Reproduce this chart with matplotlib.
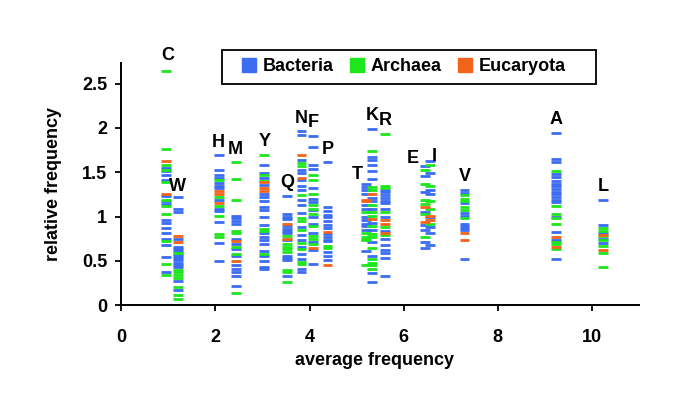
import matplotlib
matplotlib.use("Agg")
import matplotlib.pyplot as plt
from matplotlib.lines import Line2D
from matplotlib.patches import Rectangle

# ---- data -----------------------------------------------------------------
amino_acids = ['C', 'W', 'H', 'M', 'Y', 'Q', 'N', 'F', 'P',
               'T', 'K', 'R', 'E', 'I', 'V', 'A', 'L']
avg_freq = [0.95, 1.20, 2.07, 2.43, 3.04, 3.53, 3.83, 4.07, 4.38,
            5.20, 5.33, 5.61, 6.45, 6.55, 7.29, 9.24, 10.24]

bacteria = {
    'C': [1.55, 1.51, 1.47, 1.41, 1.23, 1.17, 1.14, 0.96, 0.93, 0.87, 0.82, 0.75, 0.68, 0.54, 0.37, 0.0],
    'W': [1.22, 1.08, 1.05, 0.75, 0.66, 0.63, 0.61, 0.58, 0.56, 0.53, 0.51, 0.48, 0.45, 0.43, 0.27, 0.17],
    'H': [1.69, 1.52, 1.47, 1.44, 1.38, 1.35, 1.32, 1.19, 1.09, 1.06, 0.94, 0.70, 0.50],
    'M': [1.01, 0.98, 0.95, 0.92, 0.75, 0.69, 0.63, 0.55, 0.45, 0.41, 0.37, 0.33, 0.22],
    'Y': [1.58, 1.49, 1.44, 1.36, 1.25, 1.22, 1.18, 1.11, 1.07, 0.99, 0.90, 0.82, 0.77, 0.73, 0.69, 0.61, 0.55, 0.50, 0.43, 0.41],
    'Q': [1.23, 1.03, 1.00, 0.97, 0.89, 0.86, 0.84, 0.81, 0.73, 0.56, 0.53, 0.51, 0.33],
    'N': [1.96, 1.92, 1.64, 1.53, 1.49, 1.41, 1.35, 1.30, 1.19, 1.13, 1.04, 0.88, 0.79, 0.73, 0.66, 0.58, 0.52, 0.41, 0.38],
    'F': [1.91, 1.79, 1.58, 1.54, 1.32, 1.20, 1.16, 1.07, 1.00, 0.92, 0.81, 0.71, 0.62, 0.47],
    'P': [1.61, 1.11, 1.06, 1.02, 0.99, 0.95, 0.91, 0.87, 0.80, 0.77, 0.74, 0.72, 0.60, 0.56, 0.51],
    'T': [1.37, 1.33, 1.30, 1.25, 1.13, 1.09, 1.00, 0.96, 0.92, 0.89, 0.85, 0.61],
    'K': [1.99, 1.67, 1.64, 1.58, 1.51, 1.42, 1.21, 1.17, 1.09, 0.93, 0.85, 0.71, 0.56, 0.36, 0.26],
    'R': [1.30, 1.28, 1.24, 1.21, 1.18, 1.15, 1.09, 1.00, 0.84, 0.75, 0.68, 0.62, 0.59, 0.53, 0.33],
    'E': [1.57, 1.46, 1.28, 1.05, 0.90, 0.85, 0.71, 0.65],
    'I': [1.63, 1.49, 1.30, 1.25, 0.99, 0.88, 0.81, 0.68],
    'V': [1.30, 1.27, 1.15, 1.04, 1.01, 0.92, 0.89, 0.87, 0.85, 0.52],
    'A': [1.94, 1.65, 1.61, 1.48, 1.45, 1.40, 1.37, 1.34, 1.31, 1.28, 1.25, 1.22, 1.19, 1.16, 0.99, 0.83, 0.74, 0.52],
    'L': [1.19, 0.90, 0.81, 0.75, 0.70],
}
archaea = {
    'C': [2.64, 1.76, 1.58, 1.52, 1.39, 1.19, 1.12, 1.03, 0.72, 0.46, 0.34],
    'W': [0.59, 0.40, 0.37, 0.34, 0.31, 0.21, 0.11, 0.07],
    'H': [1.41, 1.22, 1.12, 1.01, 0.80, 0.77],
    'M': [1.61, 1.42, 1.19, 0.84, 0.82, 0.66, 0.58, 0.14],
    'Y': [1.70, 1.47, 1.40, 0.86, 0.84, 0.58],
    'Q': [0.78, 0.69, 0.66, 0.63, 0.60, 0.40, 0.37, 0.26],
    'N': [1.60, 1.57, 1.24, 0.98, 0.95, 0.85, 0.70, 0.63, 0.49, 0.46],
    'F': [1.47, 1.41, 1.26, 1.13, 1.09, 1.03, 0.89, 0.78, 0.75, 0.69],
    'P': [0.67, 0.64],
    'T': [1.05, 0.81, 0.77, 0.75, 0.73, 0.45],
    'K': [1.74, 1.33, 1.30, 1.13, 1.05, 1.01, 0.89, 0.80, 0.77, 0.64, 0.52, 0.48, 0.45, 0.41],
    'R': [1.93, 1.34, 1.32, 1.05, 0.88, 0.79],
    'E': [1.52, 1.37, 1.19, 1.14, 1.03, 0.77],
    'I': [1.58, 1.34, 1.17, 1.08, 0.92],
    'V': [1.24, 1.20, 1.18, 1.11, 1.07, 0.98],
    'A': [1.51, 1.12, 1.03, 0.98, 0.92, 0.71, 0.69, 0.63],
    'L': [0.87, 0.84, 0.78, 0.73, 0.67, 0.59, 0.43],
}
eucaryota = {
    'C': [1.63, 1.25],
    'W': [0.78, 0.71],
    'H': [1.29, 1.26, 1.15],
    'M': [0.72, 0.50],
    'Y': [1.39, 1.32, 1.29],
    'Q': [0.92, 0.75],
    'N': [1.69, 1.43],
    'F': [0.65],
    'P': [0.83, 0.45],
    'T': [1.19, 1.17],
    'K': [1.26, 0.97],
    'R': [0.96, 0.92, 0.81],
    'E': [1.11, 0.94],
    'I': [0.96, 1.01],
    'V': [0.82, 0.74],
    'A': [0.77, 0.66],
    'L': [0.79, 0.62],
}

domain_names = ['Bacteria', 'Archaea', 'Eucaryota']
domain_colors = ['#3B6CF2', '#1EE61E', '#F26419']
x_ticks = [0, 2, 4, 6, 8, 10]
y_ticks = [0, 0.5, 1, 1.5, 2, 2.5]
y_tick_labels = ['0', '0.5', '1', '1.5', '2', '2.5']

# label placement tweaks (dx, dy) relative to column top
label_shift = {'T': (-0.19, 0.10), 'E': (-0.25, 0.08), 'I': (0.10, 0.05),
               'W': (0.0, 0.12), 'C': (0.03, 0.18)}

# ---- plot -------------------------------------------------------------------
plt.rcParams['font.family'] = ['Liberation Sans', 'DejaVu Sans']
plt.rcParams['font.weight'] = 'bold'

fig = plt.figure(figsize=(6.85, 4.08), dpi=100)
ax = fig.add_axes([0.177, 0.252, 0.756, 0.593])

half_w = 0.105
for data, color in zip([bacteria, archaea, eucaryota], domain_colors):
    for aa, x in zip(amino_acids, avg_freq):
        vals = data[aa]
        ax.hlines(vals, x - half_w, x + half_w, colors=color, linewidth=2.0)

for aa, x in zip(amino_acids, avg_freq):
    top = max(bacteria[aa] + archaea[aa] + eucaryota[aa])
    dx, dy = label_shift.get(aa, (0.0, 0.15))
    ax.text(x + dx, top + dy, aa, ha='center', va='center',
            fontsize=13, fontweight='bold', color='black')

ax.set_xlim(0, 11)
ax.set_ylim(0, 2.73)
ax.set_xticks(x_ticks)
ax.set_xticklabels([str(t) for t in x_ticks])
ax.set_yticks(y_ticks)
ax.set_yticklabels(y_tick_labels)
for s in ['top', 'right']:
    ax.spines[s].set_visible(False)
for s in ['left', 'bottom']:
    ax.spines[s].set_linewidth(1.4)
ax.tick_params(axis='both', direction='out', length=4, width=1.3,
               labelsize=13)
ax.tick_params(axis='x', pad=13)
ax.tick_params(axis='y', pad=6)

ax.set_xlabel('average frequency', fontsize=13, fontweight='bold')
ax.set_ylabel('relative frequency', fontsize=13, fontweight='bold')
ax.xaxis.set_label_coords(0.49, -0.195)
ax.yaxis.set_label_coords(-0.114, 0.5)

# legend frame (figure coordinates) and legend entries
frame = Rectangle((0.3241, 0.7941), 0.546, 0.0833, transform=fig.transFigure,
                  facecolor='white', edgecolor='black', linewidth=1.3,
                  zorder=4)
fig.add_artist(frame)
handles = [Line2D([], [], marker='s', linestyle='none', markersize=10,
                  markerfacecolor=c, markeredgecolor=c) for c in domain_colors]
leg = fig.legend(handles, domain_names, loc='center left', ncol=3,
                 bbox_to_anchor=(0.3533, 0.8358),
                 frameon=False, fontsize=13, borderpad=0, borderaxespad=0,
                 handletextpad=0.35, columnspacing=0.9, handlelength=0.8)
leg.set_zorder(5)
for t in leg.get_texts():
    t.set_fontweight('bold')

fig.savefig('out.png', dpi=100)
